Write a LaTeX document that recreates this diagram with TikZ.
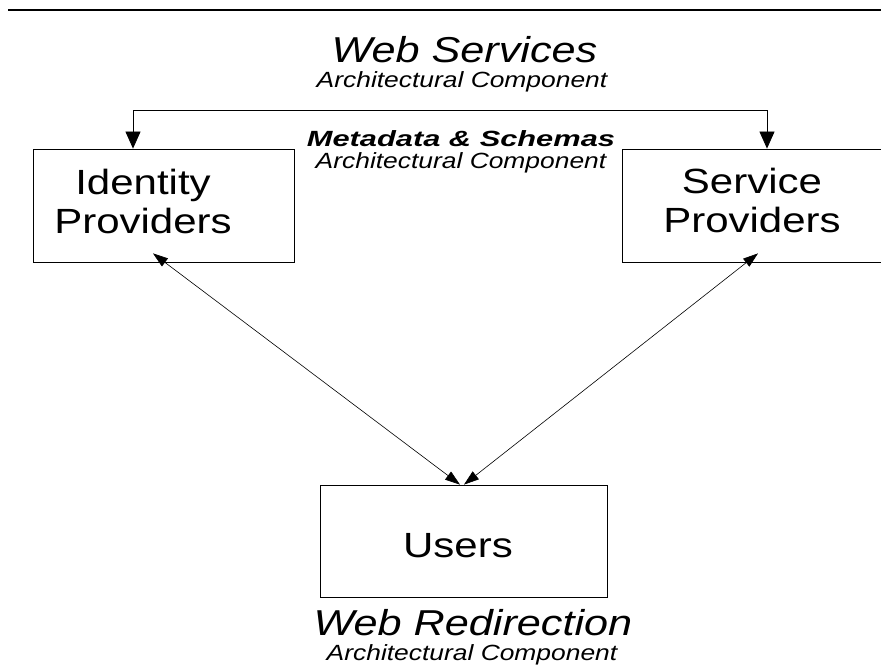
\documentclass[tikz,border=0pt]{standalone}
\usepackage{fontspec}
\newfontfamily\widefont{Liberation Sans}[FakeStretch=1.2]
\newfontfamily\widerfont{Liberation Sans}[FakeStretch=1.4]
\usetikzlibrary{positioning, arrows.meta}

\begin{document}
\begin{tikzpicture}
    [
        x=1pt, y=-1pt,
        box/.style={rectangle, draw=black, line width=0.8pt, inner sep=0pt},
        boxtext/.style={font=\widefont\fontsize{35}{39}\selectfont, align=center, anchor=base},
        title/.style={font=\widefont\itshape\fontsize{36}{40}\selectfont, anchor=base},
        subtitle/.style={font=\widefont\itshape\fontsize{22}{26}\selectfont, anchor=base},
        metatitle/.style={font=\widerfont\bfseries\itshape\fontsize{22}{26}\selectfont, anchor=base},
        link/.style={{Triangle[length=15pt, width=10pt]}-{Triangle[length=15pt, width=10pt]}, line width=0.6pt},
        bus/.style={{Triangle[length=17pt, width=15pt]}-{Triangle[length=17pt, width=15pt]}, line width=0.8pt},
    ]
        \useasboundingbox (0,0) rectangle (881,666);
        \clip (0,0) rectangle (881,666);
        \fill[white] (0,0) rectangle (881,666);
        \draw[line width=1.5pt] (8,10) -- (881,10);

        % boxes
        \node[box, minimum width=261pt, minimum height=113pt] (idp) at (163.5,205.5) {};
        \node[box, minimum width=260pt, minimum height=113pt] (sp) at (752,205.5) {};
        \node[box, minimum width=287pt, minimum height=112pt] (users) at (463.5,541) {};
        \node[boxtext] (idptext) at (143,233) {Identity\\Providers};
        \node[boxtext] (sptext) at (752,232) {Service\\Providers};
        \node[boxtext] (userstext) at (458,557) {Users};

        % labels
        \node[title] (ws) at (464.5,63) {Web Services};
        \node[subtitle] (wsarch) at (462,88) {Architectural Component};
        \node[metatitle] (meta) at (461,147) {Metadata \& Schemas};
        \node[subtitle] (metaarch) at (461,168) {Architectural Component};
        \node[title] (wr) at (473,635) {Web Redirection};
        \node[subtitle] (wrarch) at (472,660) {Architectural Component};

        % connectors
        \coordinate (busL) at (133,110);
        \coordinate (busR) at (767,110);
        \draw[bus] (idp.north -| busL) -- (busL) -- (busR) -- (busR |- sp.north);
        \draw[link] ([xshift=-10.5pt, yshift=9pt]idp.south) -- ([xshift=-3.5pt]users.north);
        \draw[link] ([xshift=6pt, yshift=9pt]sp.south) -- ([xshift=0.5pt]users.north);
    \end{tikzpicture}
\end{document}
